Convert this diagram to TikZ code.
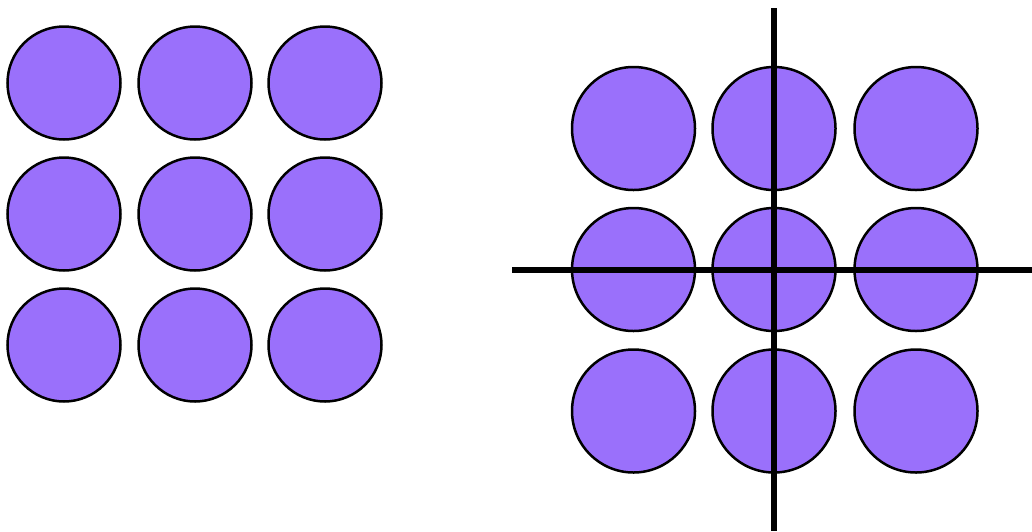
\documentclass[tikz,border=0pt]{standalone}
\definecolor{dotfill}{RGB}{154,112,251}
\tikzset{
  dotL/.style={circle,draw=black,line width=2.5pt,fill=dotfill,minimum size=113pt,inner sep=0pt},
  dotR/.style={circle,draw=black,line width=2.5pt,fill=dotfill,minimum size=123pt,inner sep=0pt},
  axis/.style={line width=6.5pt,draw=black}
}
\begin{document}
\begin{tikzpicture}[x=1pt,y=-1pt]
\useasboundingbox (0,0) rectangle (1032,531);
% left grid
\foreach \i/\x in {1/64,2/195,3/325}{
  \foreach \j/\y in {1/83,2/214,3/345}{
    \node[dotL] (l\i\j) at (\x,\y) {};
  }
}
% right grid
\foreach \i/\x in {1/633.5,2/774,3/916}{
  \foreach \j/\y in {1/128.5,2/269.5,3/411}{
    \node[dotR] (r\i\j) at (\x,\y) {};
  }
}
\coordinate (vtop) at (774,8);
\coordinate (vbot) at (774,531);
\coordinate (hleft) at (512,270);
\coordinate (hright) at (1032,270);
\draw[axis] (vtop) -- (vbot);
\draw[axis] (hleft) -- (hright);
\end{tikzpicture}
\end{document}
